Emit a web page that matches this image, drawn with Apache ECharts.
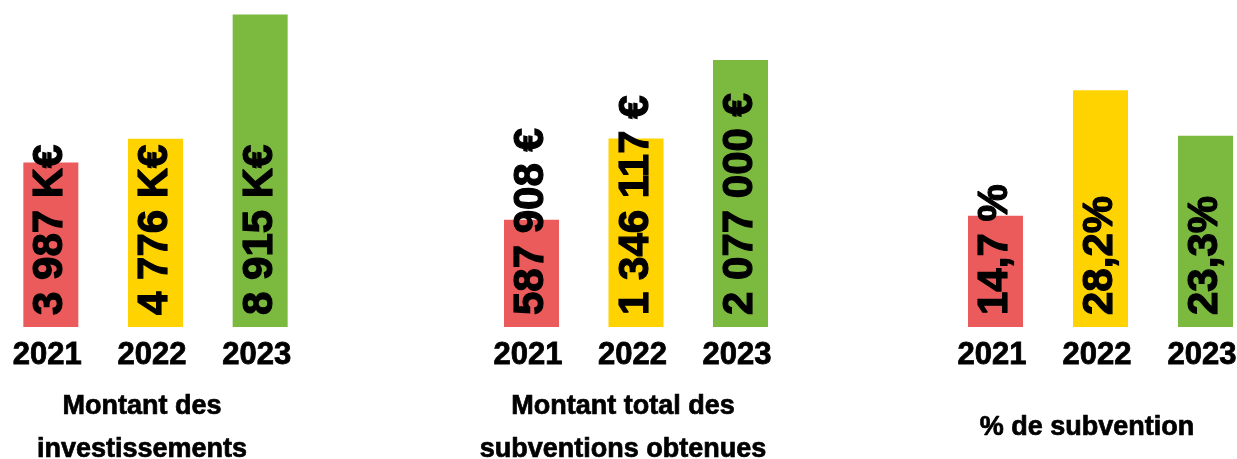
<!DOCTYPE html>
<html>
<head>
<meta charset="utf-8">
<script src="https://cdn.jsdelivr.net/npm/echarts@6/dist/echarts.min.js"></script>
<style>
html,body{margin:0;padding:0;background:#fff;}
#chart{width:1237px;height:459px;}
</style>
</head>
<body>
<div id="chart"></div>
<script>
// ---- data ----
const years = ['2021', '2022', '2023'];
const investValues = [3987, 4776, 8915];               // K€
const investLabels = ['3 987 K€', '4 776 K€', '8 915 K€'];
const subventionValues = [587908, 1346117, 2077000];   // €
const subventionLabels = ['587 908 €', '1 346 117 €', '2 077 000 €'];
const percentValues = [14.7, 28.2, 23.3];              // %
const percentLabels = ['14,7 %', '28,2%', '23,3%'];
const panelTitles = ['Montant des\ninvestissements', 'Montant total des\nsubventions obtenues', '% de subvention'];

// ---- style ----
const barColors = ['#EC5B5B', '#FFD300', '#7BB93F'];
const FONT = "'Liberation Sans', Arial, sans-serif";

const panels = [
  { values: investValues, labels: investLabels, left: -1.5, width: 314, min: -1500, max: 9400, titleX: 142 },
  { values: subventionValues, labels: subventionLabels, left: 479.25, width: 313.5, min: -410000, max: 2635000, titleX: 623 },
  { values: percentValues, labels: percentLabels, left: 943, width: 315, min: 2.75, max: 37.9, titleX: 1087 }
];

const chart = echarts.init(document.getElementById('chart'), null, { renderer: 'canvas' });

const option = {
  animation: false,
  backgroundColor: '#ffffff',
  grid: panels.map(p => ({ left: p.left, width: p.width, top: 0, bottom: 132, outerBoundsMode: 'none', containLabel: false })),
  xAxis: panels.map((p, i) => ({
    type: 'category',
    gridIndex: i,
    data: years,
    axisLine: { show: false },
    axisTick: { show: false },
    axisLabel: {
      margin: 13,
      color: '#000',
      fontFamily: FONT,
      fontWeight: 'bold',
      fontSize: 31,
      textBorderColor: '#000',
      textBorderWidth: 0.8,
      padding: [0, 7, 0, 0],
      interval: 0
    }
  })),
  yAxis: panels.map((p, i) => ({
    type: 'value',
    gridIndex: i,
    show: false,
    min: p.min,
    max: p.max,
    startValue: p.min,
    splitLine: { show: false }
  })),
  series: panels.map((p, i) => ({
    type: 'bar',
    xAxisIndex: i,
    yAxisIndex: i,
    barWidth: 55,
    data: p.values.map((v, j) => ({ value: v, itemStyle: { color: barColors[j] } })),
    label: {
      show: true,
      position: 'insideBottom',
      distance: 12,
      rotate: 90,
      align: 'left',
      verticalAlign: 'middle',
      color: '#000',
      fontFamily: FONT,
      fontWeight: 'bold',
      fontSize: 42,
      textBorderColor: '#000',
      textBorderWidth: 1.2,
      formatter: (prm) => p.labels[prm.dataIndex]
    }
  })),
  graphic: panels.map((p, i) => ({
    type: 'text',
    x: p.titleX,
    y: 428,
    style: {
      text: panelTitles[i],
      fill: '#000',
      stroke: '#000',
      lineWidth: 0.7,
      fontFamily: FONT,
      fontWeight: 'bold',
      fontSize: 27,
      lineHeight: 43,
      align: 'center',
      verticalAlign: 'middle'
    }
  }))
};

chart.setOption(option);
</script>
</body>
</html>
